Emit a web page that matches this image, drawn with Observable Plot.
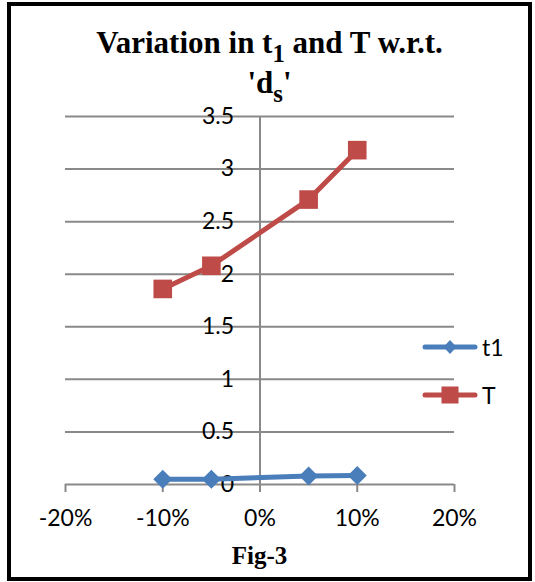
<!DOCTYPE html>
<html>
<head>
<meta charset="utf-8">
<script src="https://cdn.jsdelivr.net/npm/d3@7"></script>
<script src="https://cdn.jsdelivr.net/npm/@observablehq/plot@0.6"></script>
<style>
  html, body { margin: 0; padding: 0; background: #fff; overflow: hidden; }
  #wrap { position: relative; width: 535px; height: 582px; }
  #chart { position: absolute; left: 0; top: 0; }
  #frame { position: absolute; left: 7px; top: 2px; width: 525px; height: 579px; box-sizing: border-box; border: 4px solid #000; pointer-events: none; z-index: 5; }
  #title { position: absolute; left: 11px; width: 517px; top: 24px; text-align: center; font-family: "Liberation Serif", "Times New Roman", serif; font-weight: bold; font-size: 31px; line-height: 38px; color: #000; z-index: 4; }
  #title .sub { font-size: 0.8em; position: relative; top: 0.38em; }
  #caption { position: absolute; left: 65px; width: 389px; top: 542px; text-align: center; font-family: "Liberation Serif", "Times New Roman", serif; font-weight: bold; font-size: 25px; line-height: 28px; z-index: 4; }
  #legend { position: absolute; left: 420px; top: 330px; z-index: 4; font-family: Lato, "Liberation Sans", sans-serif; font-size: 23px; }
  .litem { display: flex; align-items: center; height: 34px; margin-bottom: 14px; }
  .litem svg { display: block; }
  .litem span { margin-left: 2px; line-height: 22px; }
</style>
</head>
<body>
<div id="wrap">
  <div id="chart"></div>
  <div id="title">Variation in t<span class="sub">1</span> and T w.r.t.<br>'d<span class="sub">s</span>'</div>
  <div id="legend"></div>
  <div id="caption">Fig-3</div>
  <div id="frame"></div>
</div>
<script>
// Data
const ds = [-0.10, -0.05, 0.05, 0.10];
const t1 = [0.05, 0.05, 0.08, 0.085];
const T = [1.86, 2.08, 2.71, 3.18];
const seriesNames = ["t1", "T"];
const seriesColors = ["#4A7EBB", "#BE4B48"];
const xTicks = [-0.2, -0.1, 0, 0.1, 0.2];
const yTicks = [0, 0.5, 1, 1.5, 2, 2.5, 3, 3.5];
const yTickLabels = ["0", "0.5", "1", "1.5", "2", "2.5", "3", "3.5"];
const xTickLabels = ["-20%", "-10%", "0%", "10%", "20%"];

const rows = [];
ds.forEach((d, i) => rows.push({x: d, y: t1[i], s: "t1"}));
ds.forEach((d, i) => rows.push({x: d, y: T[i], s: "T"}));
const t1Rows = rows.filter(r => r.s === "t1");
const TRows = rows.filter(r => r.s === "T");
const grid = "#898989";
const tickFont = "Lato, 'Liberation Sans', sans-serif";

const plot = Plot.plot({
  width: 535,
  height: 582,
  marginLeft: 65,
  marginRight: 81,
  marginTop: 116,
  marginBottom: 98,
  style: {background: "transparent", fontFamily: tickFont},
  x: {domain: [-0.2, 0.2], axis: null},
  y: {domain: [0, 3.5], axis: null},
  marks: [
    Plot.ruleY(yTicks, {stroke: grid, strokeWidth: 2}),
    Plot.ruleX([0], {stroke: grid, strokeWidth: 2}),
    Plot.axisX({
      ticks: xTicks,
      tickFormat: d => xTickLabels[xTicks.indexOf(d)],
      tickSize: 8,
      tickPadding: 17,
      stroke: grid,
      strokeWidth: 2,
      fill: "#000",
      fontSize: 23,
      label: null
    }),
    Plot.text(yTicks, {
      x: 0, y: d => d,
      text: (d, i) => yTickLabels[i],
      dx: -26, textAnchor: "end",
      fontSize: 23, fill: "#000"
    }),
    Plot.line(TRows, {x: "x", y: "y", stroke: seriesColors[1], strokeWidth: 5}),
    Plot.dot(TRows, {x: "x", y: "y", symbol: "square", r: 10.5, fill: seriesColors[1], stroke: null}),
    Plot.line(t1Rows, {x: "x", y: "y", stroke: seriesColors[0], strokeWidth: 5}),
    Plot.dot(t1Rows, {x: "x", y: "y", symbol: "square", r: 7.6, rotate: 45, fill: seriesColors[0], stroke: null})
  ]
});
document.getElementById("chart").appendChild(plot);

// Legend
const legend = document.getElementById("legend");
seriesNames.forEach((name, i) => {
  const item = document.createElement("div");
  item.className = "litem";
  const c = seriesColors[i];
  const marker = i === 0
    ? `<polygon points="30,10 36.5,17 30,24 23.5,17" fill="${c}"/>`
    : `<rect x="21.5" y="8.5" width="17" height="17" fill="${c}"/>`;
  item.innerHTML = `<svg width="60" height="34"><line x1="5" x2="55" y1="17" y2="17" stroke="${c}" stroke-width="5" stroke-linecap="round"/>${marker}</svg><span>${name}</span>`;
  legend.appendChild(item);
});
</script>
</body>
</html>
